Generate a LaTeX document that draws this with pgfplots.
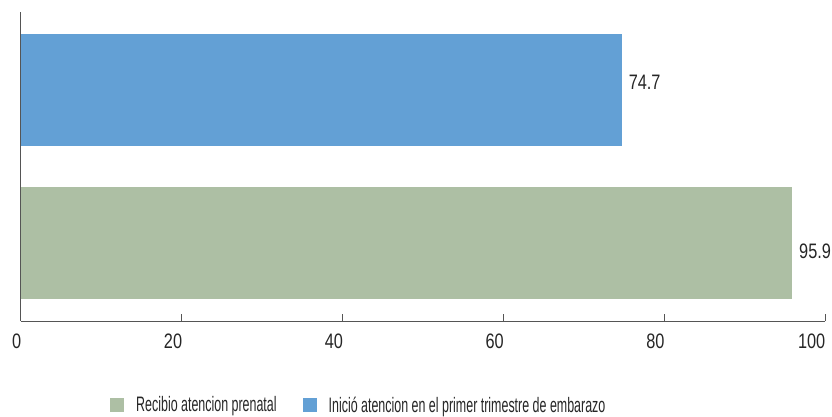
\documentclass[border=0pt]{standalone}
\usepackage{fontspec}
\setmainfont{Liberation Sans}
\newfontfamily\numfont{Liberation Sans}[FakeStretch=0.78]
\newfontfamily\legfont{Liberation Sans}[FakeStretch=0.595]
\usepackage{pgfplots}
\pgfplotsset{compat=1.18}
\definecolor{barblue}{RGB}{99,160,213}
\definecolor{bargreen}{RGB}{173,191,164}
\definecolor{axgray}{RGB}{85,85,85}
\begin{document}
\begin{tikzpicture}
\useasboundingbox (0,0) rectangle (832bp,417bp);
\begin{axis}[
  at={(21bp,96bp)}, anchor=south west,
  scale only axis, width=804bp, height=309bp,
  xmin=0, xmax=100, ymin=-0.51, ymax=1.51,
  xbar, bar shift=0pt, bar width=112bp,
  axis x line=bottom, axis y line=left,
  axis line style={axgray, line width=1bp, -},
  xtick={0,20,...,100}, ytick=\empty,
  tick align=inside, major tick length=7bp,
  tick style={axgray, line width=1bp},
  xticklabel style={font=\numfont\fontsize{21}{25}\selectfont, anchor=north east, inner sep=0pt, yshift=-13bp, xshift=0.5bp, text=black!85},
  /pgf/number format/assume math mode=true,
  clip=false,
  nodes near coords, point meta=explicit symbolic,
  nodes near coords style={font=\numfont\fontsize{21}{25}\selectfont, anchor=base west, inner sep=0pt, xshift=7bp, text=black!85},
  legend style={draw=none, fill=none, at={(axis description cs:0.1107,-0.272)}, anchor=west,
    legend columns=2, font=\legfont\fontsize{21}{25}\selectfont, text=black!85,
    /tikz/every odd column/.append style={column sep=10bp},
    /tikz/every even column/.append style={column sep=24bp}, inner sep=0pt},
  legend image code/.code={\fill[#1] (0bp,-7bp) rectangle (14bp,7bp);},
  legend cell align=left,
]
\addplot[fill=bargreen, draw=none, nodes near coords style={yshift=-15.7bp}] coordinates {(95.9,0) [95.9]};
\addlegendentry{Recibio atencion prenatal}
\addplot[fill=barblue, draw=none, nodes near coords style={yshift=0.7bp}] coordinates {(74.7,1) [74.7]};
\addlegendentry{Inició atencion en el primer trimestre de embarazo}
\end{axis}
\end{tikzpicture}
\end{document}
